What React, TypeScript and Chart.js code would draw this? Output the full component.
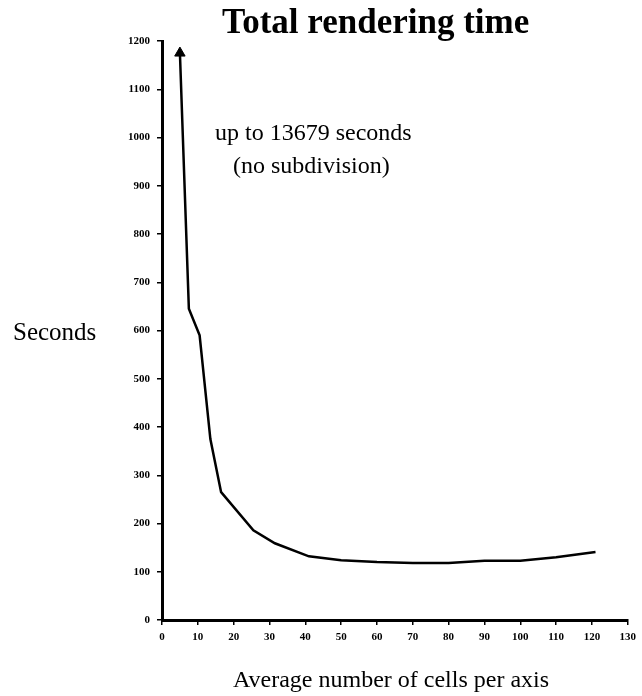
import { useEffect, useRef } from "react";
import { Chart, registerables } from "chart.js";

Chart.register(...registerables);

const cellsPerAxis = [5, 7.5, 10.5, 13.5, 16.5, 25.5, 31.5, 41, 50, 60, 70, 80, 90, 100, 110, 121];
const seconds = [1175, 645, 590, 375, 265, 186, 159, 132, 124, 120, 118, 118, 123, 123, 130, 141];
const yTickValues = [0, 100, 200, 300, 400, 500, 600, 700, 800, 900, 1000, 1100, 1200];
const xTickValues = [0, 10, 20, 30, 40, 50, 60, 70, 80, 90, 100, 110, 120, 130];

const titleText = "Total rendering time";
const yAxisLabel = "Seconds";
const xAxisLabel = "Average number of cells per axis";
const noteLines = ["up to 13679 seconds", "(no subdivision)"];

const SERIF = "'Liberation Serif', 'DejaVu Serif', serif";

export default function App() {
  const canvasRef = useRef<HTMLCanvasElement | null>(null);

  useEffect(() => {
    const canvas = canvasRef.current;
    if (!canvas) return;

    const textPlugin = {
      id: "textPlugin",
      afterDraw(chart: any) {
        const ctx = chart.ctx;
        ctx.save();
        ctx.fillStyle = "#000";
        ctx.textAlign = "left";
        ctx.textBaseline = "alphabetic";
        ctx.font = `bold 35px ${SERIF}`;
        ctx.fillText(titleText, 222, 33);
        ctx.font = `25px ${SERIF}`;
        ctx.fillText(yAxisLabel, 13, 340);
        ctx.font = `24px ${SERIF}`;
        ctx.fillText(noteLines[0], 215, 140);
        ctx.fillText(noteLines[1], 233, 173);
        ctx.fillText(xAxisLabel, 233, 687);
        ctx.restore();
      },
    };

    const chart = new Chart(canvas, {
      type: "line",
      data: {
        datasets: [
          {
            data: cellsPerAxis.map((x, i) => ({ x, y: seconds[i] })),
            borderColor: "#000",
            backgroundColor: "#000",
            borderWidth: 2.5,
            tension: 0,
            pointStyle: "triangle",
            pointRadius: cellsPerAxis.map((_, i) => (i === 0 ? 6 : 0)),
            pointBorderWidth: 1,
            clip: false as any,
          },
        ],
      },
      options: {
        animation: false,
        responsive: false,
        devicePixelRatio: 1,
        layout: { padding: { left: 122, right: 12, top: 41, bottom: 0 } },
        plugins: {
          legend: { display: false },
          tooltip: { enabled: false },
          title: { display: false },
        },
        scales: {
          x: {
            type: "linear",
            min: 0,
            max: 130,
            afterFit: (s: any) => {
              s.height = 76;
            },
            afterBuildTicks: (s: any) => {
              s.ticks = xTickValues.map((v) => ({ value: v }));
            },
            ticks: {
              autoSkip: false,
              maxRotation: 0,
              padding: 6,
              color: "#000",
              font: { size: 11, weight: "bold", family: SERIF },
              callback: (v: any) => String(v),
            },
            grid: {
              drawOnChartArea: false,
              drawTicks: true,
              tickLength: 5,
              color: "#000",
              lineWidth: 1.5,
            },
            border: { display: true, color: "#000", width: 3 },
          },
          y: {
            type: "linear",
            min: 0,
            max: 1200,
            afterFit: (s: any) => {
              s.width = 40;
            },
            afterBuildTicks: (s: any) => {
              s.ticks = yTickValues.map((v) => ({ value: v }));
            },
            ticks: {
              autoSkip: false,
              padding: 7,
              color: "#000",
              font: { size: 11, weight: "bold", family: SERIF },
              callback: (v: any) => String(v),
            },
            grid: {
              drawOnChartArea: false,
              drawTicks: true,
              tickLength: 5,
              color: "#000",
              lineWidth: 1.5,
            },
            border: { display: true, color: "#000", width: 3 },
          },
        },
      } as any,
      plugins: [textPlugin],
    });

    return () => chart.destroy();
  }, []);

  return (
    <div style={{ position: "fixed", left: 0, top: 0, width: 642, height: 696, background: "#fff" }}>
      <canvas ref={canvasRef} width={642} height={696} style={{ width: 642, height: 696, display: "block" }} />
    </div>
  );
}
